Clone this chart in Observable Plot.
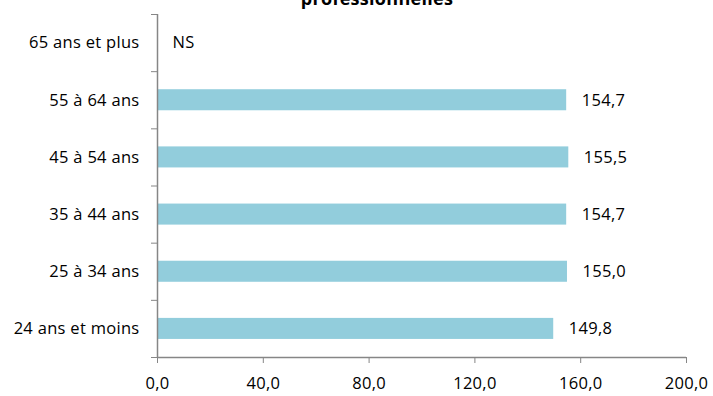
<!DOCTYPE html>
<html>
<head>
<meta charset="utf-8">
<script src="https://cdn.jsdelivr.net/npm/d3@7"></script>
<script src="https://cdn.jsdelivr.net/npm/@observablehq/plot@0.6"></script>
<style>
  html, body { margin: 0; padding: 0; background: #fff; overflow: hidden; }
</style>
</head>
<body>
<div id="chart"></div>
<script>
const categories = ["65 ans et plus", "55 à 64 ans", "45 à 54 ans", "35 à 44 ans", "25 à 34 ans", "24 ans et moins"];
const values = [null, 154.7, 155.5, 154.7, 155.0, 149.8];
const valueLabels = ["NS", "154,7", "155,5", "154,7", "155,0", "149,8"];
const xTicks = [0, 40, 80, 120, 160, 200];
const titleText = "professionnelles";

const n = categories.length;
const fmt = v => d3.format(".1f")(v).replace(".", ",");
const data = categories.map((c, i) => ({
  category: c,
  value: values[i],
  label: valueLabels[i],
  pos: n - 1 - i + 0.5
}));
const half = 0.184;

const chart = Plot.plot({
  width: 713,
  height: 396,
  marginLeft: 157,
  marginRight: 27,
  marginTop: 14,
  marginBottom: 39,
  style: { fontFamily: "'Open Sans', sans-serif", fontSize: "16.5px", color: "#000", background: "#fff", letterSpacing: "0.3px" },
  x: { domain: [0, 200], axis: null },
  y: { domain: [0, n], axis: null },
  marks: [
    Plot.rectX(data.filter(d => d.value != null), {
      x1: 0, x2: "value",
      y1: d => d.pos - half, y2: d => d.pos + half,
      fill: "#92CDDC"
    }),
    Plot.ruleX([0], { stroke: "#868686", strokeWidth: 1.5 }),
    Plot.ruleY([0], { stroke: "#868686", strokeWidth: 1.5 }),
    Plot.axisX({ ticks: xTicks, tickSize: 6, tickPadding: 14, tickFormat: fmt, stroke: "#868686", fill: "#000", fontSize: 16.5, label: null }),
    Plot.axisY({ ticks: d3.range(0, n + 1), tickSize: 6, tickFormat: () => "", stroke: "#868686", label: null }),
    Plot.axisY({ ticks: data.map(d => d.pos), tickSize: 0, tickPadding: 18, tickFormat: p => data.find(d => d.pos === p).category, fill: "#000", fontSize: 16.5, label: null }),
    Plot.text(data, {
      x: d => d.value ?? 0, y: "pos", text: "label",
      textAnchor: "start", dx: 15, fill: "#000", fontSize: 16.5
    }),
    Plot.text([titleText], {
      frameAnchor: "top", dx: -45, dy: -10, lineAnchor: "bottom",
      fontWeight: "bold", fontSize: 18, fill: "#000"
    })
  ]
});
document.getElementById("chart").appendChild(chart);
</script>
</body>
</html>
